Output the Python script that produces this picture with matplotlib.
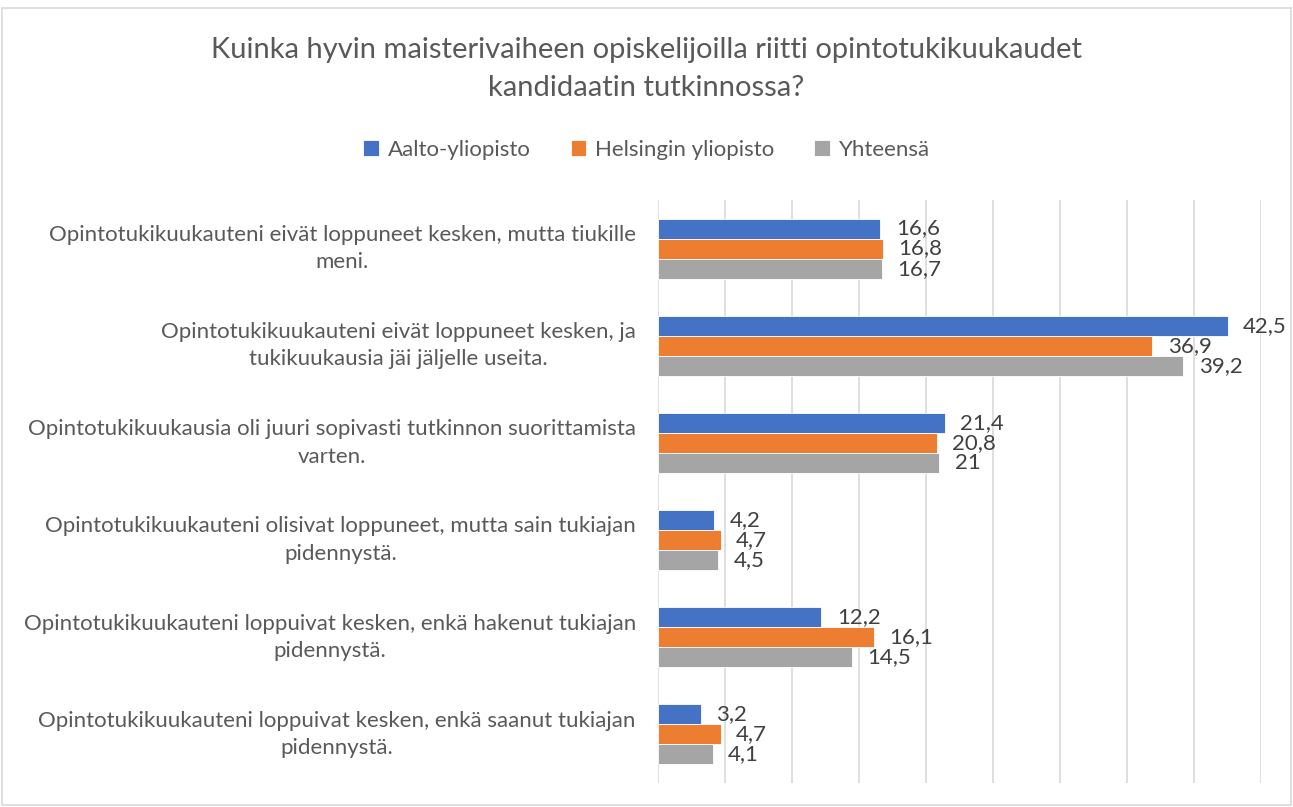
import numpy as np
import matplotlib.pyplot as plt
from matplotlib.patches import Rectangle

# data
categories = [
    "Opintotukikuukauteni eivät loppuneet kesken, mutta tiukille\nmeni.",
    "Opintotukikuukauteni eivät loppuneet kesken, ja\ntukikuukausia jäi jäljelle useita.",
    "Opintotukikuukausia oli juuri sopivasti tutkinnon suorittamista\nvarten.",
    "Opintotukikuukauteni olisivat loppuneet, mutta sain tukiajan\npidennystä.",
    "Opintotukikuukauteni loppuivat kesken, enkä hakenut tukiajan\npidennystä.",
    "Opintotukikuukauteni loppuivat kesken, enkä saanut tukiajan\npidennystä.",
]
aalto = [16.6, 42.5, 21.4, 4.2, 12.2, 3.2]
helsinki = [16.8, 36.9, 20.8, 4.7, 16.1, 4.7]
yhteensa = [16.7, 39.2, 21.0, 4.5, 14.5, 4.1]
series_names = ["Aalto-yliopisto", "Helsingin yliopisto", "Yhteensä"]
colors = ["#4472C4", "#ED7D31", "#A5A5A5"]

plt.rcParams['font.family'] = ['Lato', 'DejaVu Sans']
text_col = "#595959"

fig = plt.figure(figsize=(12.93, 8.07), dpi=100)
ax = fig.add_axes([658 / 1293, 1 - 783 / 807, (1261 - 658) / 1293, (783 - 200) / 807])

# bars + value labels
y = np.arange(len(categories))
h = 0.206
for i, (vals, name, c) in enumerate(zip([aalto, helsinki, yhteensa], series_names, colors)):
    pos = y + (i - 1) * h
    ax.barh(pos, vals, height=h, color=c, edgecolor="white", linewidth=0.6, label=name, zorder=3)
    for p, v in zip(pos, vals):
        txt = ("%g" % v).replace(".", ",")
        ax.annotate(txt, (v, p), xytext=(11, 0), textcoords="offset points",
                    va="center", ha="left", fontsize=16, color="#404040")

ax.set_xlim(0, 45)
ax.set_ylim(len(categories) - 0.5, -0.5)
ax.set_xticks(np.arange(0, 46, 5))
ax.xaxis.grid(True, color="#D9D9D9", linewidth=1.2, zorder=0)
ax.tick_params(axis="x", length=0, labelbottom=False)
ax.tick_params(axis="y", length=0)
ax.set_yticks(y)
ax.set_yticklabels([])
for s in ax.spines.values():
    s.set_visible(False)

# category labels, centred lines, right edge ~636 px
for yi, lab in zip(y, categories):
    ax.annotate(lab, (0, yi), xytext=(-16, 0), textcoords="offset points",
                ha="right", va="center", fontsize=16, color=text_col,
                multialignment="center", linespacing=1.45)

fig.text(0.5, 1 - 69 / 807, "Kuinka hyvin maisterivaiheen opiskelijoilla riitti opintotukikuukaudet\nkandidaatin tutkinnossa?",
         ha="center", va="center", fontsize=21, color=text_col, linespacing=1.55)

leg = fig.legend(loc="center", bbox_to_anchor=(0.5, 1 - 150 / 807), ncol=3, frameon=False,
                 fontsize=16, handlelength=0.7, handleheight=0.7, columnspacing=1.8, handletextpad=0.4)
for t in leg.get_texts():
    t.set_color(text_col)

fig.patches.append(Rectangle((2 / 1293, 2 / 807), 1 - 4 / 1293, 1 - 10 / 807, transform=fig.transFigure,
                             fill=False, edgecolor="#D9D9D9", linewidth=1.2))

fig.savefig("out.png", dpi=100, facecolor="white")
